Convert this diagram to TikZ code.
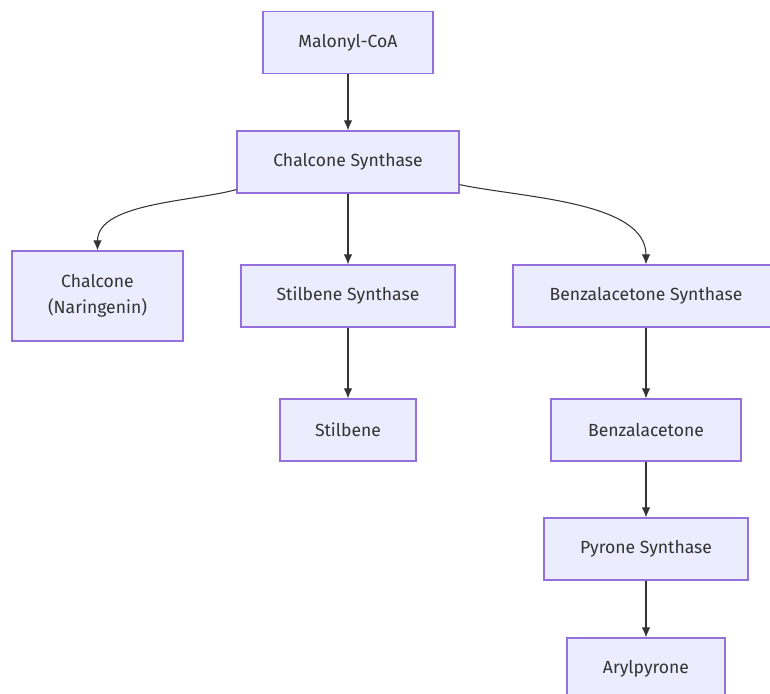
\documentclass[tikz,border=0pt]{standalone}
\usepackage{fontspec}
\setmainfont{Fira Sans}
\usetikzlibrary{arrows.meta}
\definecolor{boxfill}{HTML}{ECECFF}
\definecolor{boxline}{HTML}{9370DB}
\definecolor{inkgray}{HTML}{333333}
\tikzset{
  pathbox/.style={draw=boxline, fill=boxfill, text=inkgray, line width=0.7pt,
    minimum height=1.24cm, inner sep=0pt, align=center,
    font=\fontsize{10}{14.8}\selectfont},
  flow/.style={draw=inkgray, line width=0.6pt, -{Latex[length=2mm,width=1.7mm]}}
}
\begin{document}
\begin{tikzpicture}[x=0.02cm,y=-0.02cm]
\useasboundingbox (0,0) rectangle (770,693);
% top of the pathway
\node[pathbox,minimum width=3.4cm] (malonyl) at (348,42.5) {Malonyl-CoA};
\node[pathbox,minimum width=4.44cm] (chs) at (348,162) {Chalcone Synthase};
% three branches
\node[pathbox,minimum width=3.42cm,minimum height=1.8cm] (chalcone) at (97.5,296) {Chalcone\\(Naringenin)};
\node[pathbox,minimum width=4.28cm] (sts) at (348,296) {Stilbene Synthase};
\node[pathbox,minimum width=5.32cm] (bas) at (646,296) {Benzalacetone Synthase};
\node[pathbox,minimum width=2.72cm] (stilbene) at (348,430) {Stilbene};
\node[pathbox,minimum width=3.8cm] (benzal) at (646,430) {Benzalacetone};
\node[pathbox,minimum width=4.08cm] (pks) at (646,549) {Pyrone Synthase};
\node[pathbox,minimum width=3.16cm] (aryl) at (646,669) {Arylpyrone};
% arrows
\draw[flow] (malonyl) -- (chs);
\draw[flow] ([yshift=0.08cm]chs.south west) to[out=195,in=90,looseness=0.8] (chalcone.north);
\draw[flow] (chs) -- (sts);
\draw[flow] ([yshift=0.18cm]chs.south east) to[out=-12,in=90,looseness=0.8] (bas.north);
\draw[flow] (sts) -- (stilbene);
\draw[flow] (bas) -- (benzal);
\draw[flow] (benzal) -- (pks);
\draw[flow] (pks) -- (aryl);
\end{tikzpicture}
\end{document}
